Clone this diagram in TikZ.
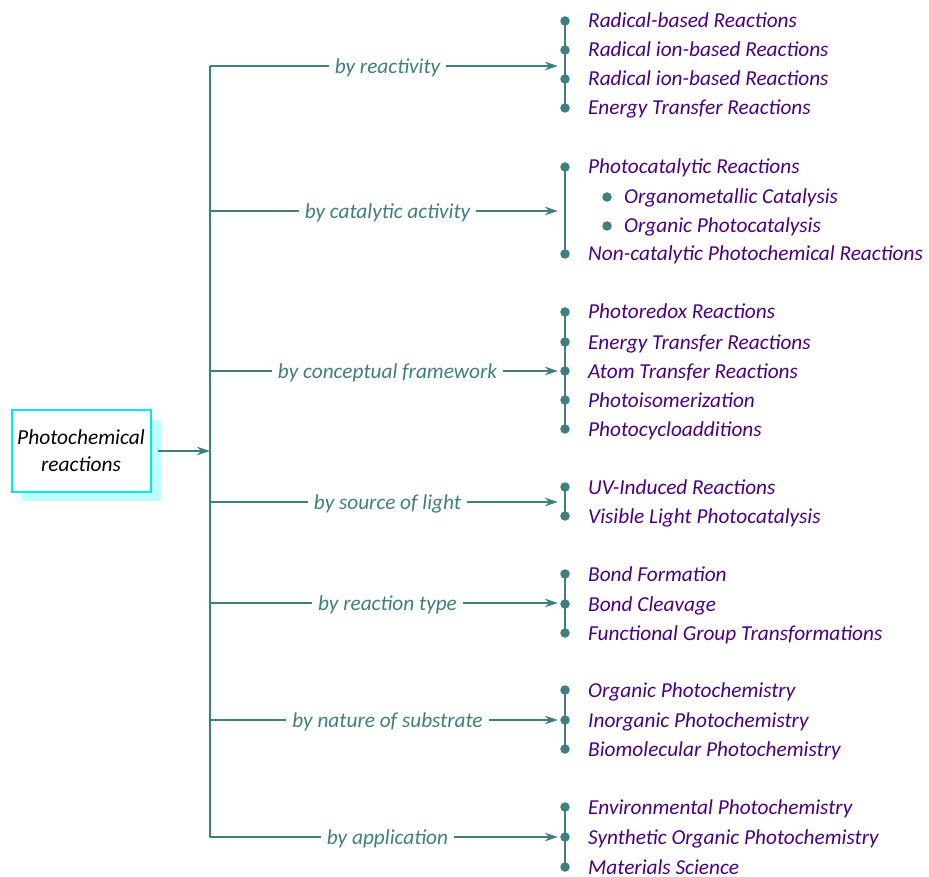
\documentclass[tikz,border=0pt]{standalone}
\usepackage{fontspec}
\setmainfont{Carlito}
\usetikzlibrary{arrows.meta}
\definecolor{tealc}{HTML}{3F7F7F}
\definecolor{indc}{HTML}{4B0082}
\definecolor{cyanb}{HTML}{00E8F0}
\definecolor{shadc}{HTML}{BFFFFF}
\tikzset{
  rootbox/.style={draw=cyanb, line width=2pt, fill=white, minimum width=139pt, minimum height=82pt, align=center, inner sep=0pt, font=\fontsize{21.4}{27}\selectfont\itshape},
  shadbox/.style={fill=shadc, minimum width=139pt, minimum height=81pt, inner sep=0pt},
  trunk/.style={draw=tealc, line width=1.5pt},
  arr/.style={draw=tealc, line width=1.5pt, -{Stealth[length=13pt,width=8.5pt,inset=4pt]}, shorten >=7pt},
  lab/.style={fill=white, text=tealc, font=\fontsize{21.3}{24}\selectfont\itshape, inner xsep=6pt, inner ysep=2pt, yshift=-1.5pt},
  item/.style={anchor=base west, yshift=-7pt, text=indc, font=\fontsize{21.3}{24}\selectfont\itshape, inner sep=0pt},
  dotn/.style={circle, fill=tealc, inner sep=0pt, minimum size=9.5pt},
  vline/.style={draw=tealc, line width=2.5pt},
}
\begin{document}
\begin{tikzpicture}[x=1pt,y=-1pt]
\useasboundingbox (0,0) rectangle (929,877);
% root
\node[shadbox] (rootshadow) at (91,460) {};
\node[rootbox] (root) at (81,451) {\raisebox{-2pt}{Photochemical}\\\raisebox{-2pt}{reactions}};
% trunk
\coordinate (ttop) at (210,66);
\coordinate (tbot) at (210,837);
\coordinate (tin) at (210,451);
\draw[trunk] (ttop) -- (tbot);
\draw[arr, shorten <=6pt, shorten >=0pt] (root) -- (tin);
% branch points
\coordinate (b1) at (210,66);  \coordinate (g1) at (565,66);
\coordinate (b2) at (210,211); \coordinate (g2) at (565,211);
\coordinate (b3) at (210,371); \coordinate (g3) at (565,371);
\coordinate (b4) at (210,502); \coordinate (g4) at (565,502);
\coordinate (b5) at (210,603); \coordinate (g5) at (565,603);
\coordinate (b6) at (210,720); \coordinate (g6) at (565,720);
\coordinate (b7) at (210,837); \coordinate (g7) at (565,837);
% group 1
\node[dotn] (d1a) at (565,21) {};
\node[dotn] (d1b) at (565,50) {};
\node[dotn] (d1c) at (565,79) {};
\node[dotn] (d1d) at (565,108) {};
\draw[vline] (d1a.center) -- (d1d.center);
\node[item] (i1a) at (588,21) {Radical-based Reactions};
\node[item] (i1b) at (588,50) {Radical ion-based Reactions};
\node[item] (i1c) at (588,79) {Radical ion-based Reactions};
\node[item] (i1d) at (588,108) {Energy Transfer Reactions};
% group 2
\node[dotn] (d2a) at (565,167) {};
\node[dotn] (d2b) at (607,197) {};
\node[dotn] (d2c) at (607,226) {};
\node[dotn] (d2d) at (565,254) {};
\draw[vline] (d2a.center) -- (d2d.center);
\node[item] (i2a) at (588,167) {Photocatalytic Reactions};
\node[item] (i2b) at (624,197) {Organometallic Catalysis};
\node[item] (i2c) at (624,226) {Organic Photocatalysis};
\node[item] (i2d) at (588,254) {Non-catalytic Photochemical Reactions};
% group 3
\node[dotn] (d3a) at (565,312) {};
\node[dotn] (d3b) at (565,342) {};
\node[dotn] (d3c) at (565,371) {};
\node[dotn] (d3d) at (565,400) {};
\node[dotn] (d3e) at (565,429) {};
\draw[vline] (d3a.center) -- (d3e.center);
\node[item] (i3a) at (588,312) {Photoredox Reactions};
\node[item] (i3b) at (588,342) {Energy Transfer Reactions};
\node[item] (i3c) at (588,371) {Atom Transfer Reactions};
\node[item] (i3d) at (588,400) {Photoisomerization};
\node[item] (i3e) at (588,429) {Photocycloadditions};
% group 4
\node[dotn] (d4a) at (565,487) {};
\node[dotn] (d4b) at (565,516) {};
\draw[vline] (d4a.center) -- (d4b.center);
\node[item] (i4a) at (588,487) {UV-Induced Reactions};
\node[item] (i4b) at (588,516) {Visible Light Photocatalysis};
% group 5
\node[dotn] (d5a) at (565,574) {};
\node[dotn] (d5b) at (565,604) {};
\node[dotn] (d5c) at (565,633) {};
\draw[vline] (d5a.center) -- (d5c.center);
\node[item] (i5a) at (588,574) {Bond Formation};
\node[item] (i5b) at (588,604) {Bond Cleavage};
\node[item] (i5c) at (588,633) {Functional Group Transformations};
% group 6
\node[dotn] (d6a) at (565,690) {};
\node[dotn] (d6b) at (565,720) {};
\node[dotn] (d6c) at (565,749) {};
\draw[vline] (d6a.center) -- (d6c.center);
\node[item] (i6a) at (588,690) {Organic Photochemistry};
\node[item] (i6b) at (588,720) {Inorganic Photochemistry};
\node[item] (i6c) at (588,749) {Biomolecular Photochemistry};
% group 7
\node[dotn] (d7a) at (565,807) {};
\node[dotn] (d7b) at (565,837) {};
\node[dotn] (d7c) at (565,867) {};
\draw[vline] (d7a.center) -- (d7c.center);
\node[item] (i7a) at (588,807) {Environmental Photochemistry};
\node[item] (i7b) at (588,837) {Synthetic Organic Photochemistry};
\node[item] (i7c) at (588,867) {Materials Science};
% branches
\draw[arr] (b1) -- node[lab] (l1) {by reactivity} (g1);
\draw[arr] (b2) -- node[lab] (l2) {by catalytic activity} (g2);
\draw[arr] (b3) -- node[lab] (l3) {by conceptual framework} (g3);
\draw[arr] (b4) -- node[lab] (l4) {by source of light} (g4);
\draw[arr] (b5) -- node[lab] (l5) {by reaction type} (g5);
\draw[arr] (b6) -- node[lab] (l6) {by nature of substrate} (g6);
\draw[arr] (b7) -- node[lab] (l7) {by application} (g7);
\end{tikzpicture}
\end{document}
